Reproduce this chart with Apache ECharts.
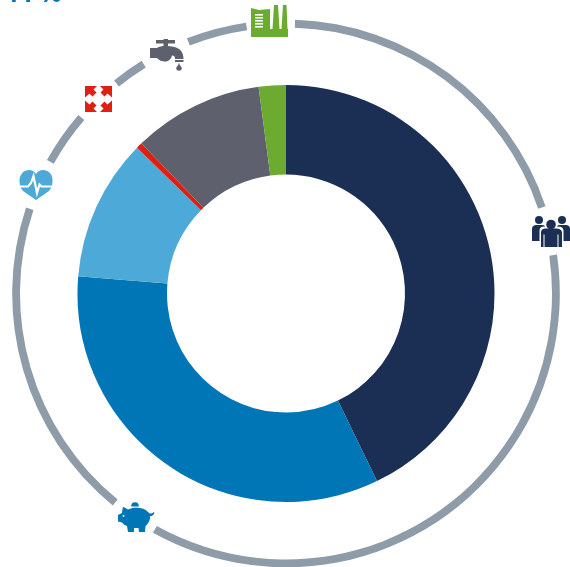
<!DOCTYPE html>
<html><head><meta charset="utf-8">
<style>html,body{margin:0;padding:0;background:#fff}#c{width:570px;height:567px}</style>
<script src="https://cdn.jsdelivr.net/npm/echarts@6/dist/echarts.min.js"></script>
</head><body><div id="c"></div>
<script>
const sliceNames = ['People','Savings','Health','Expansion','Water','Industry'];
const sliceValues = [42.8,33.5,11.0,0.47,10.1,2.1];
const sliceColors = ['#1b2f55','#0076b6','#4da9d7','#e01f13','#5e606e','#6cab2f'];
// outer ring: arc lengths in degrees, clockwise; alternating drawn arc and icon gap
const ringArcs = [69.5,10.4,127.2,10.2,69,10.9,11.5,10.4,7.1,10.6,12.8,10.3];
const ringColor = '#8e9ba8';

const chart = echarts.init(document.getElementById('c'),null,{renderer:'canvas'});
const p=(d,fill)=>({type:'path',silent:true,shape:{pathData:d},style:{fill:fill,stroke:null}});
const c=(x,y,r,fill)=>({type:'circle',silent:true,shape:{cx:x,cy:y,r:r},style:{fill:fill}});
const w='#ffffff';
const G=sliceColors[5],T=sliceColors[4],R=sliceColors[3],H=sliceColors[2],B=sliceColors[1],N=sliceColors[0];
const line=(d,lw)=>({type:'path',silent:true,shape:{pathData:d},style:{fill:null,stroke:w,lineWidth:lw}});
const icons=[
 // factory
 p('M251 8 L259 10 L270 9 L270 29 L272.5 29 L274 5 L278 5 L279.5 29 L281.5 29 L283 5 L286.5 5 L287.5 29 L288 29 L288 37 L251 37 Z',G),
 ...[14,17,20,23,26].map(y=>({type:'rect',silent:true,shape:{x:255,y:y,width:8,height:1.6},style:{fill:w}})),
 // tap
 p('M156 40 L163.5 40 L163.5 39 L168 39 L168 40 L175 40 L175 43.5 L168 43.5 L168 46 L172 46.5 C180 47.5 183.5 52 183.5 59 L175 59 C175 56 174 55.5 172 55.5 C171 59.5 168 61.5 165 61.5 C162 61.5 159 60.5 157 58 L150 58 L150 48 L157 48 C158 47 161 46 163.5 46 L163.5 43.5 L156 43.5 Z',T),
 {type:'rect',silent:true,shape:{x:175,y:60,width:8.5,height:2},style:{fill:T}},
 p('M179 63 C180 66 181.8 67 181.8 68 A2.8 2.8 0 0 1 176.2 68 C176.2 67 178 66 179 63 Z',T),
 // expand arrows
 p('M85 86 L97 86 L93.5 89.5 L96.5 92.5 L92.5 96.5 L89.5 93.5 L85 97.5 Z',R),
 p('M112 86 L100 86 L103.5 89.5 L100.5 92.5 L104.5 96.5 L107.5 93.5 L112 97.5 Z',R),
 p('M85 112 L97 112 L93.5 108.5 L96.5 105.5 L92.5 101.5 L89.5 104.5 L85 100.5 Z',R),
 p('M112 112 L100 112 L103.5 108.5 L100.5 105.5 L104.5 101.5 L107.5 104.5 L112 100.5 Z',R),
 // heart
 p('M36 200 L23 191 C20 188 19.5 184 19.5 180 C20 174 24 170 29 170 C32 170 34.5 171.5 36 174 C37.5 171.5 40 170 43 170 C48 170 52.5 174 52.5 180 C52.5 184 52 188 49 191 Z',H),
 line('M18 186.5 L28 186.5 L31 183 L33.5 176 L37 193 L39.5 184.5 L41.5 186.5 L54 186.5',2.2),
 // piggy
 c(135,506,3.8,B),
 {type:'rect',silent:true,shape:{x:129,y:506.5,width:12,height:1.4},style:{fill:w}},
 p('M123 507 C125 507.5 127 509 128 509.5 C134 507 144 507 148 512 C150 514 152 514 153.5 512 L154.5 513 C153 516 151 516.5 150 516 C150.5 520 148 524 145.5 526 L145 532 L139 532 L138.5 528 L134 528 L134 532 L128 532 L127 526 C124.5 525 123 524 122 522.5 L118 521.5 L118 515 L122 513 C122 511 122.5 509 123 507 Z',B),
 c(123.5,516,0.9,w),
 // people
 c(539,220,4,N),c(562,220,4,N),
 p('M532 241 L532 229 C532 226 534 225 536 225 L542 225 C545 225 546 227 546 229 L546 241 Z',N),
 p('M570 241 L570 229 C570 226 568 225 566 225 L560 225 C557 225 556 227 556 229 L556 241 Z',N),
 p('M539.5 248 L539.5 231 C539.5 227 542 226.5 545 226.5 L557 226.5 C560 226.5 563.5 227 563.5 231 L563.5 248 Z',w),
 c(551,224.5,5.8,w),
 c(551,224.5,4.8,N),
 p('M541 247 L541 233 C541 229.5 543 228.5 546 228.5 L556 228.5 C559 228.5 562 229.5 562 233 L562 247 L558.5 247 L558.5 234.5 L557.5 234.5 L557.5 247 L544.5 247 L544.5 234.5 L543.5 234.5 L543.5 247 Z',N),
 // clipped heading at the very top of the picture
 {type:'text',silent:true,x:4,y:-18,style:{text:'44 %',fill:B,font:'bold 25px "Open Sans", sans-serif'}}
];
chart.setOption({
 animation:false,
 tooltip:{show:false},
 legend:{show:false},
 series:[
  {type:'pie',silent:true,center:[286,293.5],radius:[119,208.5],startAngle:90,clockwise:true,
   label:{show:false},labelLine:{show:false},
   data:sliceValues.map((v,i)=>({name:sliceNames[i],value:v,itemStyle:{color:sliceColors[i]}}))},
  {type:'pie',silent:true,center:[286,293.5],radius:[266,273.8],startAngle:88.1,clockwise:true,
   label:{show:false},labelLine:{show:false},
   data:ringArcs.map((v,i)=>({value:v,itemStyle:{color:i%2?'rgba(0,0,0,0)':ringColor}}))},
  {type:'custom',silent:true,coordinateSystem:'none',data:[[0]],clip:false,
   renderItem:()=>({type:'group',children:icons})}
 ]
});
</script></body></html>
